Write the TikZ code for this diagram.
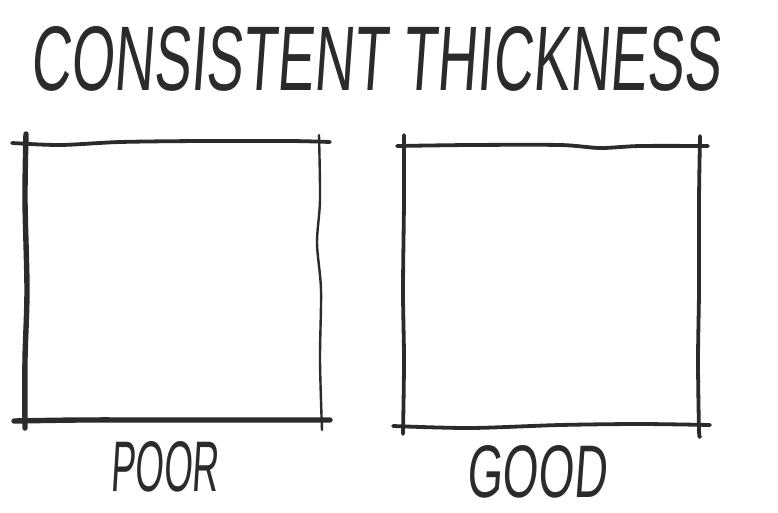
\documentclass[tikz,border=0pt]{standalone}
\usepackage{fontspec}
\usepackage{graphicx}
\setmainfont{Liberation Sans}
\newfontfamily\handfont[FakeSlant=0.12]{Liberation Sans}
\definecolor{ink}{HTML}{2B2B2B}
\begin{document}
\begin{tikzpicture}[x=1pt,y=-1pt,
  stroke/.style={draw=ink,line cap=round,line join=round},
  thin stroke/.style={stroke,line width=2.4pt},
  mid stroke/.style={stroke,line width=3.8pt},
  thick stroke/.style={stroke,line width=5.4pt},
  hand/.style={text=ink,inner sep=0pt,anchor=south west}]
\useasboundingbox[fill=white] (0,0) rectangle (778,512);

% title
\node[hand] (title) at (30,92) {\resizebox{690pt}{64pt}{\handfont CONSISTENT THICKNESS}};

% poor square (varying thickness)
\draw[thick stroke] plot[smooth] coordinates {(26,134) (25,200) (27,290) (25,360) (25,428)};
\draw[mid stroke] plot[smooth] coordinates {(12,143) (60,145) (120,142) (200,141) (290,141) (330,142)};
\draw[thin stroke] plot[smooth] coordinates {(319,135) (320,200) (317,243) (321,290) (320,360) (322,430)};
\draw[thick stroke] plot[smooth] coordinates {(14,421) (80,420) (160,420) (250,420) (330,420)};

% good square (consistent thickness)
\draw[mid stroke] plot[smooth] coordinates {(404,135) (404,200) (403,290) (404,360) (403,434)};
\draw[mid stroke] plot[smooth] coordinates {(397,146) (470,145) (560,145) (600,148) (640,146) (708,146)};
\draw[mid stroke] plot[smooth] coordinates {(700,136) (699,200) (699,290) (698,360) (699,430) (700,436)};
\draw[mid stroke] plot[smooth] coordinates {(393,426) (470,428) (560,425) (640,424) (710,425)};

% labels
\node[hand] (poor) at (110,492) {\resizebox{108pt}{50pt}{\handfont POOR}};
\node[hand] (good) at (466,498) {\resizebox{140pt}{52pt}{\handfont GOOD}};
\end{tikzpicture}
\end{document}
